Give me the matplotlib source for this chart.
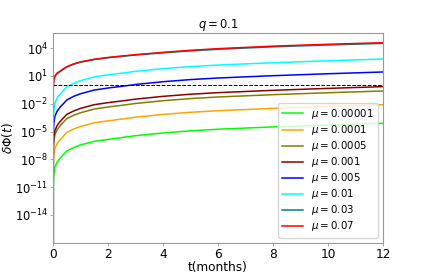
#!/usr/bin/env python3

import matplotlib
matplotlib.use("Agg")
import matplotlib.pyplot as plt
import numpy as np


#####
##### Data (log10 of delta Phi)
#####

T_MONTHS = [0, 0.01, 0.03, 0.07, 0.15, 0.25, 0.5, 0.75, 1, 1.5, 2, 2.5, 3, 4, 5, 6, 8, 10, 12]

MU_LABELS = ["0.00001", "0.0001", "0.0005", "0.001", "0.005", "0.01", "0.03", "0.07"]
MU_COLORS = ["lime", "orange", "olive", "darkred", "blue", "cyan", "teal", "red"]

# first entry (t=0) is zero -> clipped on log axis
LOG_MU_00001 = [-10.8, -9.6, -8.85, -8.3, -7.9, -7.1, -6.73, -6.45, -6.05, -5.85, -5.65, -5.45, -5.15, -4.92, -4.75, -4.5, -4.29, -4.1]
LOG_MU_0001  = [-8.7, -7.6, -6.85, -6.3, -5.9, -5.1, -4.73, -4.45, -4.05, -3.85, -3.65, -3.45, -3.15, -2.92, -2.75, -2.5, -2.29, -2.1]
LOG_MU_0005  = [-7.2, -6.1, -5.35, -4.8, -4.4, -3.6, -3.25, -2.97, -2.57, -2.35, -2.17, -1.97, -1.67, -1.44, -1.27, -1.02, -0.81, -0.62]
LOG_MU_001   = [-6.75, -5.65, -4.9, -4.35, -3.95, -3.15, -2.78, -2.5, -2.1, -1.88, -1.7, -1.5, -1.2, -0.97, -0.8, -0.55, -0.34, -0.15]
LOG_MU_005   = [-5.2, -4.1, -3.35, -2.8, -2.4, -1.6, -1.2, -0.92, -0.52, -0.3, -0.12, 0.08, 0.38, 0.61, 0.78, 1.03, 1.24, 1.43]
LOG_MU_01    = [-3.8, -2.7, -1.95, -1.4, -1.0, -0.17, 0.2, 0.5, 0.9, 1.12, 1.3, 1.5, 1.79, 2.01, 2.18, 2.43, 2.64, 2.83]
LOG_MU_03    = [-0.25, 0.57, 0.97, 1.27, 1.47, 1.97, 2.27, 2.49, 2.77, 2.97, 3.12, 3.26, 3.5, 3.71, 3.88, 4.15, 4.35, 4.52]
LOG_MU_07    = [-0.2, 0.6, 1.0, 1.3, 1.5, 2.0, 2.3, 2.52, 2.8, 3.0, 3.15, 3.3, 3.55, 3.77, 3.95, 4.22, 4.42, 4.59]

ALL_LOGS = [LOG_MU_00001, LOG_MU_0001, LOG_MU_0005, LOG_MU_001,
            LOG_MU_005, LOG_MU_01, LOG_MU_03, LOG_MU_07]

Y_TICKS = [1e-14, 1e-11, 1e-8, 1e-5, 1e-2, 1e1, 1e4]
X_TICKS = [0, 2, 4, 6, 8, 10, 12]

FONT_SIZE_XS = 7.4
FONT_SIZE_S = 8.3
FONT_SIZE_M = 8.7
SPINE_COLOR = "0.6"


#####
##### Plot
#####

fig = plt.figure(figsize=(4.26, 2.74), dpi=100)
ax = fig.add_axes([0.1244, 0.1142, 0.7746, 0.7654])

for lab, col, logs in zip(MU_LABELS, MU_COLORS, ALL_LOGS):
    vals = [0.0] + list(10.0 ** np.array(logs))
    ax.plot(T_MONTHS, vals, color=col, lw=1.1, label=r"$\mu = " + lab + "$")

ax.axhline(1, color="black", linestyle="--", lw=0.7)

ax.set_yscale("log")
ax.set_xlim(0, 12)
ax.set_ylim(10 ** -17.0, 10 ** 5.64)
ax.set_yticks(Y_TICKS)
ax.yaxis.set_minor_locator(matplotlib.ticker.NullLocator())
ax.set_xticks(X_TICKS)

ax.tick_params(axis="x", labelsize=FONT_SIZE_M, length=2, width=0.6,
               color=SPINE_COLOR, pad=1.5)
ax.tick_params(axis="y", labelsize=FONT_SIZE_S, length=2, width=0.6,
               color=SPINE_COLOR, pad=1.5)
for sp in ax.spines.values():
    sp.set_color(SPINE_COLOR)

ax.set_title(r"$q = 0.1$", fontsize=FONT_SIZE_S, pad=3)
ax.set_xlabel("t(months)", fontsize=FONT_SIZE_M, labelpad=0)
ax.set_ylabel(r"$\delta\Phi(t)$", fontsize=FONT_SIZE_M)
ax.yaxis.set_label_coords(-0.115, 0.5)

ax.legend(loc="lower right", fontsize=FONT_SIZE_XS, labelspacing=0.2,
          handlelength=2.0, borderaxespad=0.5)

fig.savefig("out.png", dpi=100)
